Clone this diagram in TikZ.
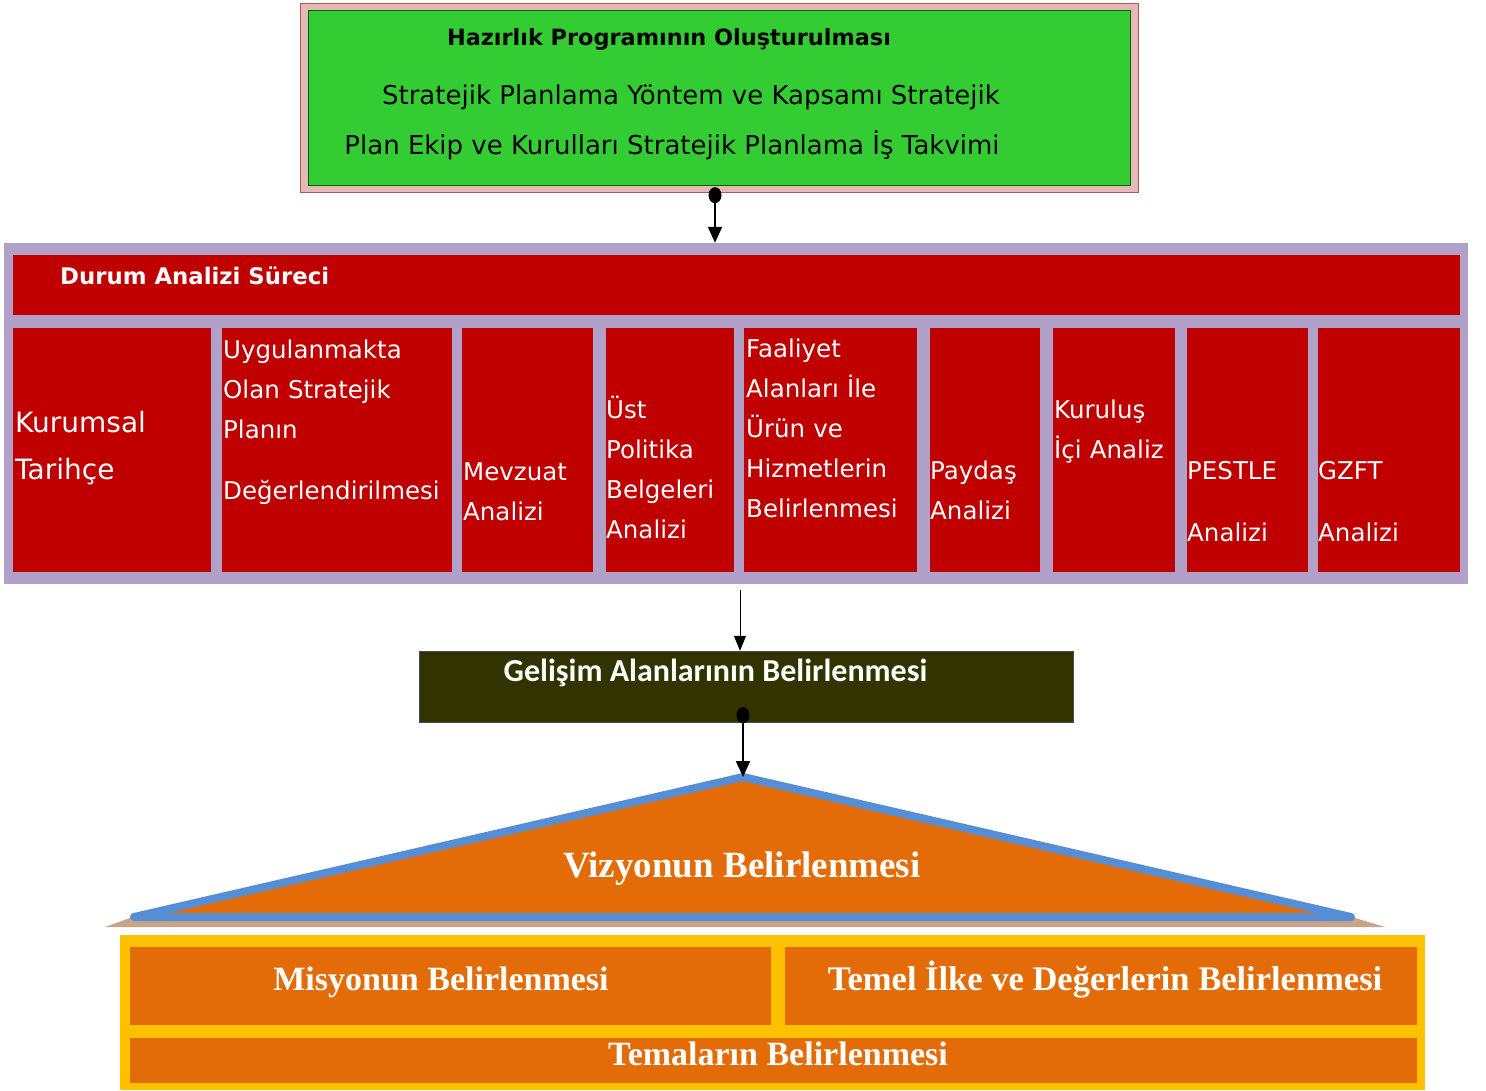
\documentclass[tikz,border=0pt]{standalone}
\usepackage{fontspec}
\setmainfont{DejaVu Sans}
\newfontfamily\calfont{Carlito}
\newfontfamily\timesfont{Liberation Serif}
\usetikzlibrary{arrows.meta}

\definecolor{pembe}{HTML}{E6B9B8}
\definecolor{koyupembe}{HTML}{B05A58}
\definecolor{yesil}{HTML}{33CC33}
\definecolor{mor}{HTML}{B1A0C7}
\definecolor{kirmizi}{HTML}{C00000}
\definecolor{zeytin}{HTML}{333300}
\definecolor{turuncu}{HTML}{E36C09}
\definecolor{mavi}{HTML}{558ED5}
\definecolor{sari}{HTML}{FFC000}
\definecolor{ten}{HTML}{C9A386}

\tikzstyle{kolon} = [rectangle,fill=kirmizi,minimum height=244pt,inner sep=0pt]
\tikzstyle{kolonyazi} = [anchor=base west,align=left,text width=250pt,inner sep=0pt,text=white,font=\fontsize{24.5}{40}\selectfont]
\tikzstyle{turbox} = [rectangle,fill=turuncu,inner sep=0pt]
\tikzstyle{baslik} = [anchor=base,inner sep=0pt,text=white,font=\timesfont\bfseries\fontsize{34}{40}\selectfont]

\begin{document}
\begin{tikzpicture}[x=1pt,y=-1pt]
		\useasboundingbox (0,0) rectangle (1486,1090);
		% hazirlik
		\node[rectangle,fill=pembe,draw=koyupembe,minimum width=838pt,minimum height=189pt] (prep) at (719,97.5) {};
		\node[rectangle,fill=yesil,draw=green!40!black,minimum width=822pt,minimum height=175pt] (prepin) at (719,97.5) {};
		\node[anchor=base,inner sep=0pt,font=\bfseries\fontsize{22.4}{26}\selectfont] (t0) at (669,45) {Hazırlık Programının Oluşturulması};
		\node[anchor=base,inner sep=0pt,font=\fontsize{26}{28}\selectfont] (t1) at (691,104) {Stratejik Planlama Yöntem ve Kapsamı Stratejik};
		\node[anchor=base,inner sep=0pt,font=\fontsize{26}{28}\selectfont] (t2) at (672,154) {Plan Ekip ve Kurulları Stratejik Planlama İş Takvimi};
		
		% durum analizi
		\node[rectangle,fill=mor,minimum width=1464pt,minimum height=341pt] (frame) at (736,413.5) {};
		\node[rectangle,fill=kirmizi,minimum width=1447pt,minimum height=60pt] (head) at (736.5,285) {};
		\node[anchor=base west,inner sep=0pt,text=white,font=\bfseries\fontsize{22.8}{26}\selectfont] (th) at (60,284) {Durum Analizi Süreci};
		
		\node[kolon,minimum width=198pt] (c1) at (112,450) {};
		\node[kolon,minimum width=230pt] (c2) at (337,450) {};
		\node[kolon,minimum width=131pt] (c3) at (527.5,450) {};
		\node[kolon,minimum width=128pt] (c4) at (670,450) {};
		\node[kolon,minimum width=173pt] (c5) at (830.5,450) {};
		\node[kolon,minimum width=110pt] (c6) at (985,450) {};
		\node[kolon,minimum width=122pt] (c7) at (1114,450) {};
		\node[kolon,minimum width=121pt] (c8) at (1247.5,450) {};
		\node[kolon,minimum width=142pt] (c9) at (1389,450) {};
		
		\node[kolonyazi,font=\fontsize{28}{47}\selectfont] (k1) at (15,432) {Kurumsal\\Tarihçe};
		\node[kolonyazi] (k2) at (223,358) {Uygulanmakta\\Olan Stratejik\\Planın\\[21pt]Değerlendirilmesi};
		\node[kolonyazi] (k3) at (463,480) {Mevzuat\\Analizi};
		\node[kolonyazi] (k4) at (606,418) {Üst\\Politika\\Belgeleri\\Analizi};
		\node[kolonyazi] (k5) at (746,357) {Faaliyet\\Alanları İle\\Ürün ve\\Hizmetlerin\\Belirlenmesi};
		\node[kolonyazi] (k6) at (930,479) {Paydaş\\Analizi};
		\node[kolonyazi] (k7) at (1054,418) {Kuruluş\\İçi Analiz};
		\node[kolonyazi] (k8) at (1187,479) {PESTLE\\[22pt]Analizi};
		\node[kolonyazi] (k9) at (1318,479) {GZFT\\[22pt]Analizi};
		
		% gelisim alanlari
		\node[rectangle,fill=zeytin,draw=black!70,minimum width=654pt,minimum height=71pt] (gel) at (746,686.5) {};
		\node[anchor=base,inner sep=0pt,text=white,font=\calfont\bfseries\fontsize{32}{34}\selectfont] (tg) at (715.5,681) {Gelişim Alanlarının Belirlenmesi};
		
		% vizyon
		\coordinate (apex) at (743,777);
		\fill[ten] (105,927) -- (130,918) -- (1355,918) -- (1385,927) -- cycle;
		\draw[mavi,fill=turuncu,line width=8pt,line join=round] (134,917) -- (apex) -- (1351,917) -- cycle;
		\node[baslik,font=\timesfont\bfseries\fontsize{37}{40}\selectfont] (tv) at (742,877) {Vizyonun Belirlenmesi};
		
		% misyon, ilkeler, temalar
		\node[rectangle,fill=sari,minimum width=1305pt,minimum height=155pt] (alt) at (772.5,1012.5) {};
		\node[turbox,minimum width=641pt,minimum height=78pt] (mis) at (450.5,986) {};
		\node[turbox,minimum width=632pt,minimum height=78pt] (ilk) at (1101,986) {};
		\node[turbox,minimum width=1287pt,minimum height=45pt] (tem) at (773.5,1060.5) {};
		\node[baslik] (tm) at (441,990) {Misyonun Belirlenmesi};
		\node[baslik,font=\timesfont\bfseries\fontsize{34.5}{40}\selectfont] (ti) at (1105,990) {Temel İlke ve Değerlerin Belirlenmesi};
		\node[baslik] (tt) at (778,1065) {Temaların Belirlenmesi};
		
		% oklar
		\draw[line width=2pt,{Circle[length=16pt,width=13pt]}-{Triangle[length=16pt,width=14pt]}] ([xshift=-4pt,yshift=5pt]prep.south) -- ([xshift=-4pt]prep.south |- frame.north);
		\coordinate (a2) at (740,590);
		\draw[line width=1pt,-{Triangle[length=15pt,width=12pt]}] (a2) -- (a2 |- gel.north);
		\draw[line width=2pt,{Circle[length=16pt,width=13pt]}-{Triangle[length=16pt,width=14pt]}] ([yshift=15pt]gel.south -| apex) -- (apex);
\end{tikzpicture}
\end{document}
